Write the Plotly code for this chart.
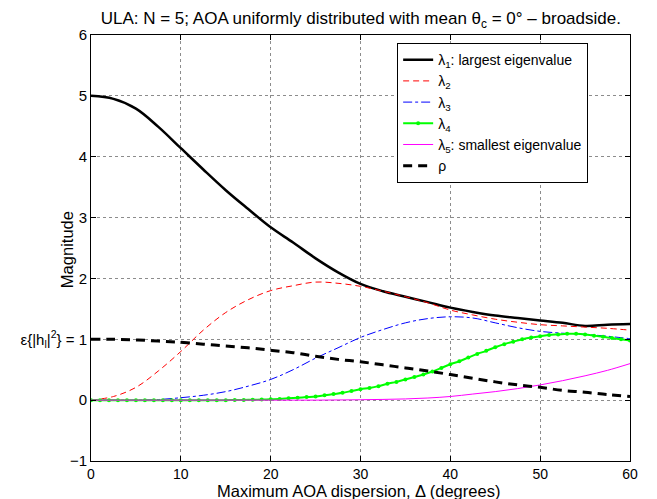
import plotly.graph_objects as go

# Maximum AOA dispersion (degrees)
delta = [0, 2.5, 5, 7.5, 10, 12.5, 15, 17.5, 20, 22.5, 25, 27.5, 30,
         32.5, 35, 37.5, 40, 42.5, 45, 47.5, 50, 52.5, 55, 57.5, 60]

lam1 = [5.00, 4.95, 4.79, 4.49, 4.14, 3.79, 3.45, 3.14, 2.84, 2.59, 2.33, 2.10, 1.91,
        1.79, 1.70, 1.61, 1.52, 1.45, 1.39, 1.35, 1.31, 1.27, 1.22, 1.24, 1.25]
lam2 = [0.00, 0.06, 0.21, 0.48, 0.80, 1.15, 1.44, 1.65, 1.80, 1.88, 1.94, 1.92, 1.87,
        1.79, 1.70, 1.60, 1.48, 1.40, 1.33, 1.28, 1.24, 1.22, 1.20, 1.18, 1.15]
lam3 = [0.00, 0.00, 0.00, 0.01, 0.04, 0.08, 0.14, 0.23, 0.34, 0.50, 0.69, 0.86, 1.03,
        1.16, 1.27, 1.34, 1.37, 1.35, 1.27, 1.19, 1.13, 1.10, 1.08, 1.05, 1.01]
lam5 = [0.00, 0.00, 0.00, 0.00, 0.00, 0.00, 0.00, 0.00, 0.00, 0.00, 0.00, 0.003, 0.007,
        0.012, 0.02, 0.035, 0.06, 0.10, 0.14, 0.19, 0.25, 0.32, 0.40, 0.49, 0.60]
rho = [1.00, 1.00, 0.99, 0.97, 0.95, 0.92, 0.89, 0.86, 0.82, 0.78, 0.72, 0.67, 0.63,
       0.58, 0.53, 0.48, 0.42, 0.36, 0.30, 0.25, 0.21, 0.16, 0.13, 0.09, 0.06]

# lambda_4 is drawn with markers on a finer grid (1 degree)
delta_fine = list(range(0, 61))
lam4 = [0, 0, 0, 0, 0, 0, 0, 0, 0, 0, 0, 0, 0, 0, 0, 0,
        0.002, 0.004, 0.006, 0.01, 0.015, 0.02, 0.03, 0.04, 0.05, 0.06, 0.08, 0.10,
        0.12, 0.15, 0.18, 0.20, 0.23, 0.27, 0.30, 0.34, 0.38, 0.42, 0.47, 0.53, 0.59,
        0.64, 0.70, 0.76, 0.81, 0.87, 0.92, 0.96, 1.00, 1.03, 1.05, 1.07, 1.08, 1.09,
        1.09, 1.08, 1.06, 1.04, 1.02, 1.00, 0.98]

y_ticks = [-1, 0, 1, 2, 3, 4, 5, 6]
y_ticktext = ["\u22121", "0", "\u03b5{|h<sub>l</sub>|<sup>2</sup>} = 1", "2", "3", "4", "5", "6"]
x_ticks = [0, 10, 20, 30, 40, 50, 60]

FONT = "Liberation Sans, Arial, sans-serif"

fig = go.Figure()
fig.add_trace(go.Scatter(x=delta, y=lam1, mode="lines", line_shape="spline",
                         name="\u03bb<sub>1</sub>: largest eigenvalue",
                         line=dict(color="black", width=2.5)))
fig.add_trace(go.Scatter(x=delta, y=lam2, mode="lines", line_shape="spline",
                         name="\u03bb<sub>2</sub>",
                         line=dict(color="#ff0000", width=1, dash="6px,4px")))
fig.add_trace(go.Scatter(x=delta, y=lam3, mode="lines", line_shape="spline",
                         name="\u03bb<sub>3</sub>",
                         line=dict(color="#0000ff", width=1, dash="dashdot")))
fig.add_trace(go.Scatter(x=delta_fine, y=lam4, mode="lines+markers", line_shape="spline",
                         name="\u03bb<sub>4</sub>",
                         line=dict(color="#00ff00", width=2),
                         marker=dict(color="#00ff00", size=4, symbol="circle")))
fig.add_trace(go.Scatter(x=delta, y=lam5, mode="lines", line_shape="spline",
                         name="\u03bb<sub>5</sub>: smallest eigenvalue",
                         line=dict(color="#ff00ff", width=1)))
fig.add_trace(go.Scatter(x=delta, y=rho, mode="lines", line_shape="spline",
                         name="\u03c1",
                         line=dict(color="black", width=3, dash="9px,6px")))

axis_common = dict(
    showline=True, linecolor="black", linewidth=1, mirror="ticks",
    ticks="inside", ticklen=5, tickcolor="black",
    showgrid=True, gridcolor="rgba(0,0,0,0.45)", gridwidth=1, griddash="dot",
    zeroline=False, automargin=False,
)

fig.update_layout(
    width=657, height=499,
    margin=dict(l=83, r=35, t=27, b=46),
    paper_bgcolor="white", plot_bgcolor="white",
    font=dict(family=FONT, size=14, color="black"),
    title=dict(text="ULA: N = 5; AOA uniformly distributed with mean \u03b8<sub>c</sub> = 0\u00b0 \u2013 broadside.",
               x=0.537, xanchor="center", y=0.979, yanchor="middle",
               font=dict(family=FONT, size=17, color="black")),
    xaxis=dict(range=[0, 60], tickvals=x_ticks,
               tickfont=dict(family=FONT, size=14, color="black"), **axis_common),
    yaxis=dict(range=[-1, 6], tickvals=y_ticks, ticktext=y_ticktext,
               tickfont=dict(family=FONT, size=15, color="black"), **axis_common),
    legend=dict(x=0.568, y=0.981, xanchor="left", yanchor="top",
                bgcolor="white", bordercolor="black", borderwidth=1,
                font=dict(family=FONT, size=14, color="black"),
                tracegroupgap=0, itemwidth=30),
    showlegend=True,
    annotations=[
        dict(text="Magnitude", textangle=-90, xref="paper", yref="paper",
             x=-0.0445, y=0.495, xanchor="center", yanchor="middle",
             showarrow=False, font=dict(family=FONT, size=16.5, color="black")),
        dict(text="Maximum AOA dispersion, \u0394 (degrees)", xref="paper", yref="paper",
             x=0.497, y=-0.0715, xanchor="center", yanchor="middle",
             showarrow=False, font=dict(family=FONT, size=16.5, color="black")),
    ],
)

fig.write_html("out.html")
